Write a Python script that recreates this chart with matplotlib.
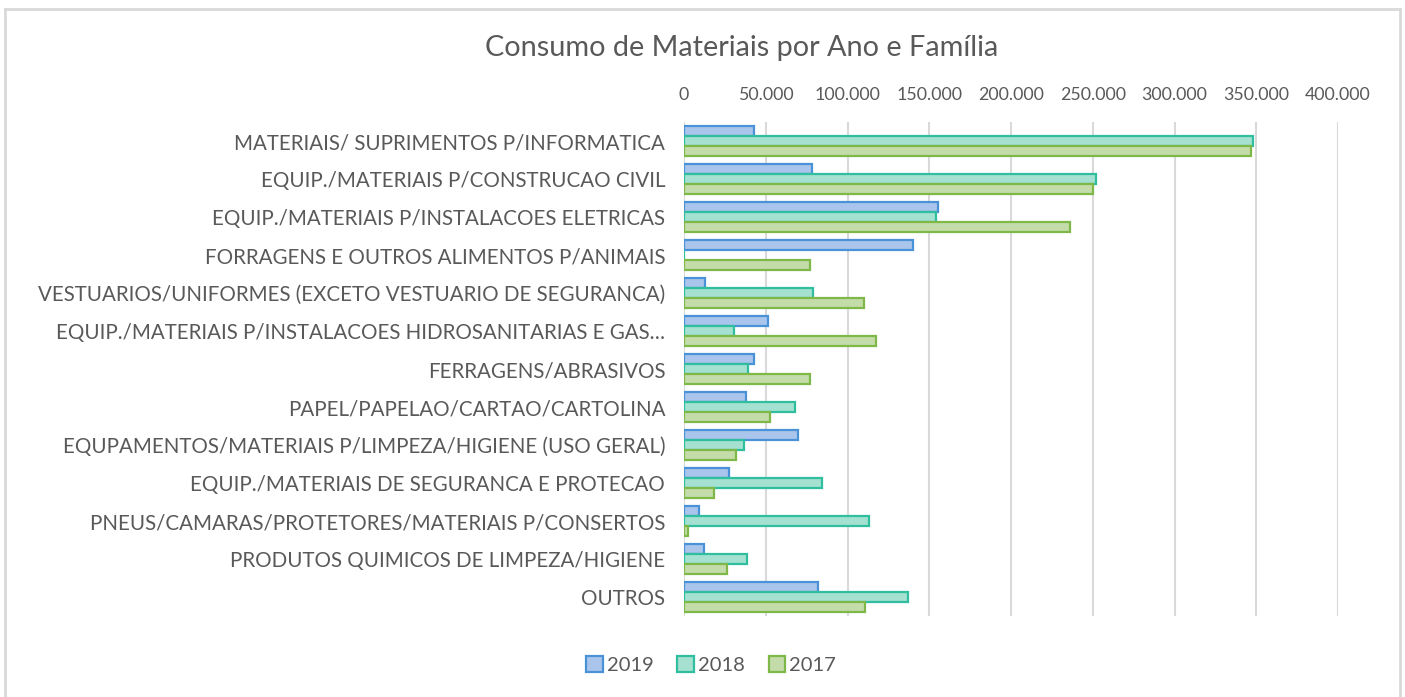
import matplotlib

matplotlib.use("Agg")
import matplotlib.pyplot as plt  # noqa: E402
from matplotlib.patches import Rectangle  # noqa: E402
from matplotlib.ticker import FuncFormatter, MultipleLocator  # noqa: E402

plt.rcParams["font.family"] = ["Lato", "DejaVu Sans"]

GREY = "#595959"
GRID = "#d9d9d9"

familias = [
    "MATERIAIS/ SUPRIMENTOS P/INFORMATICA",
    "EQUIP./MATERIAIS P/CONSTRUCAO CIVIL",
    "EQUIP./MATERIAIS P/INSTALACOES ELETRICAS",
    "FORRAGENS E OUTROS ALIMENTOS P/ANIMAIS",
    "VESTUARIOS/UNIFORMES (EXCETO VESTUARIO DE SEGURANCA)",
    "EQUIP./MATERIAIS P/INSTALACOES HIDROSANITARIAS E GAS…",
    "FERRAGENS/ABRASIVOS",
    "PAPEL/PAPELAO/CARTAO/CARTOLINA",
    "EQUPAMENTOS/MATERIAIS P/LIMPEZA/HIGIENE (USO GERAL)",
    "EQUIP./MATERIAIS DE SEGURANCA E PROTECAO",
    "PNEUS/CAMARAS/PROTETORES/MATERIAIS P/CONSERTOS",
    "PRODUTOS QUIMICOS DE LIMPEZA/HIGIENE",
    "OUTROS",
]
anos = ["2019", "2018", "2017"]
v2019 = [42700, 78300, 155600, 140100, 12700, 51200, 43000, 38100, 69700, 27500, 9000, 12500, 82000]
v2018 = [348000, 251800, 154400, 0, 79000, 30800, 39000, 67600, 36400, 84400, 113000, 38700, 136900]
v2017 = [347000, 249900, 235900, 77100, 109900, 117700, 77100, 52800, 32000, 18100, 2400, 26600, 110900]

fills = ["#aac5ec", "#a5e1d1", "#c4dcaa"]
edges = ["#4a92d8", "#2fbf9f", "#7db848"]

fig = plt.figure(figsize=(14.05, 6.97), dpi=100)
# chart area border (top, left, right)
fig.add_artist(plt.Line2D([5 / 1405, 1400 / 1405], [1 - 9 / 697] * 2, color=GRID, lw=2))
fig.add_artist(plt.Line2D([5 / 1405] * 2, [0, 1 - 9 / 697], color=GRID, lw=2))
fig.add_artist(plt.Line2D([1400 / 1405] * 2, [0, 1 - 9 / 697], color=GRID, lw=2))

ax = fig.add_axes([684 / 1405, 1 - 616 / 697, (1338 - 684) / 1405, (616 - 122) / 697])

h = 0.255
pos = list(range(len(familias)))
for i, vals in enumerate([v2019, v2018, v2017]):
    ys = [p + (i - 1) * h for p in pos]
    ax.barh(ys, vals, height=h, color=fills[i], edgecolor=edges[i], lw=1.6, label=anos[i], zorder=3)

ax.set_xlim(0, 400000)
ax.set_ylim(len(familias) - 0.5, -0.5)
ax.xaxis.set_major_locator(MultipleLocator(50000))
ax.xaxis.set_major_formatter(FuncFormatter(lambda x, _: f"{int(x):,}".replace(",", ".")))
ax.xaxis.tick_top()
ax.grid(axis="x", color=GRID, lw=1.5, zorder=0)
for s in ax.spines.values():
    s.set_visible(False)
ax.tick_params(axis="x", length=0, pad=14, labelsize=12.8, labelcolor=GREY)
ax.tick_params(axis="y", length=0, pad=13.5, labelsize=14.8, labelcolor=GREY)
ax.set_yticks(pos)
ax.set_yticklabels(familias)

fig.text(742 / 1405, 1 - 48 / 697, "Consumo de Materiais por Ano e Família", ha="center", va="center",
         fontsize=20.8, color=GREY)

handles = [Rectangle((0, 0), 1, 1, fc=fills[i], ec=edges[i], lw=1.6) for i in range(3)]
fig.legend(handles, anos, loc="center", bbox_to_anchor=(711 / 1405, 1 - 665 / 697), ncol=3, frameon=False,
           fontsize=14.5, labelcolor=GREY, handlelength=0.8, handleheight=0.8, handletextpad=0.2, columnspacing=1.2)

fig.savefig("out.png", dpi=100)
